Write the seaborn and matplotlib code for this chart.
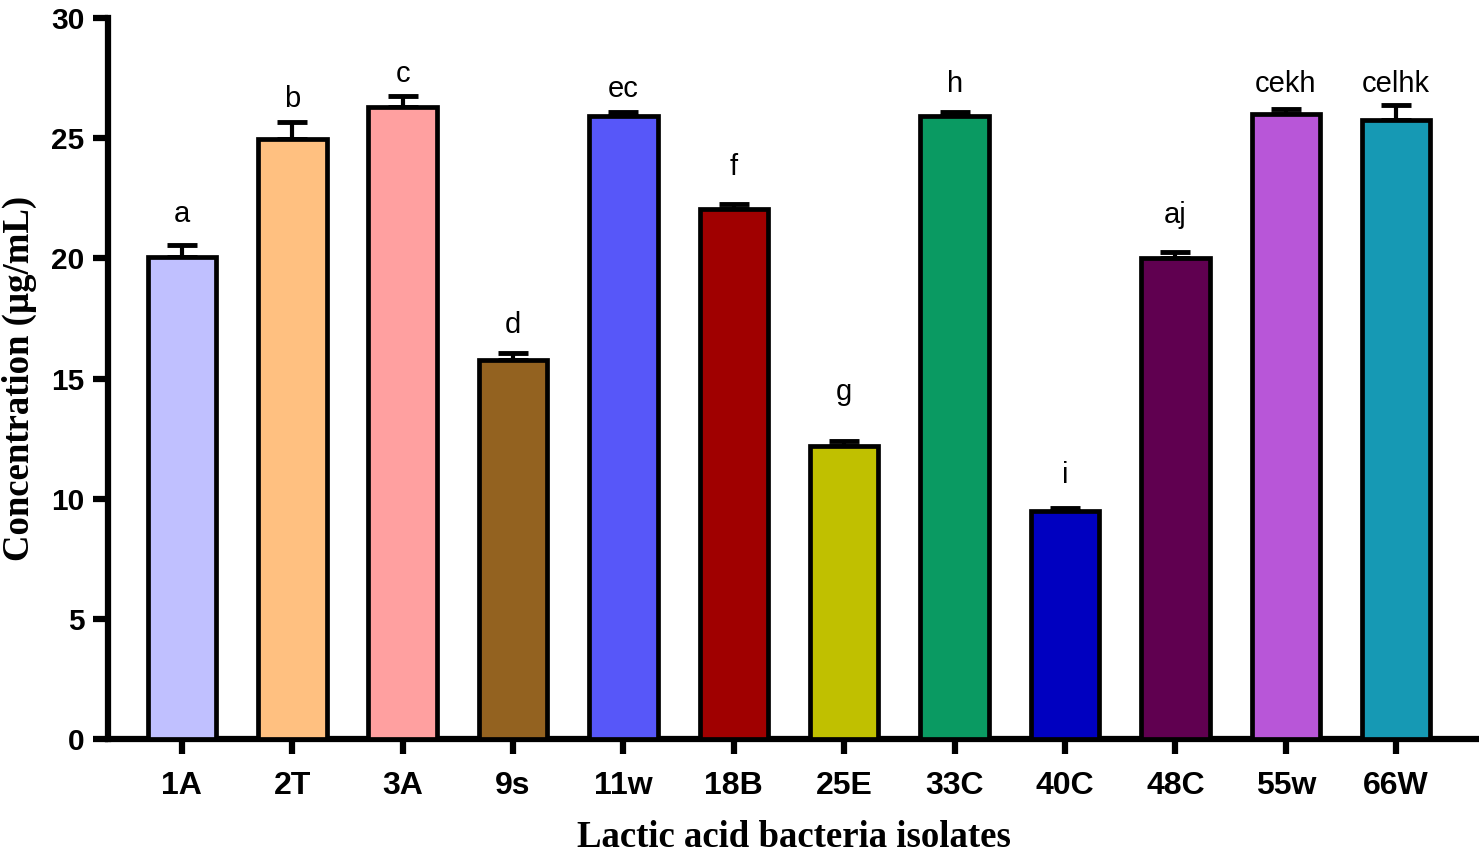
import matplotlib
matplotlib.use("Agg")
import matplotlib.pyplot as plt
import seaborn as sns
import pandas as pd
import numpy as np

# values
isolates = ["1A", "2T", "3A", "9s", "11w", "18B", "25E", "33C", "40C", "48C", "55w", "66W"]
conc = [20.05, 24.97, 26.3, 15.77, 25.93, 22.06, 12.19, 25.93, 9.49, 20.0, 26.0, 25.76]
sem = [0.5, 0.7, 0.45, 0.3, 0.15, 0.2, 0.2, 0.15, 0.12, 0.25, 0.2, 0.6]
letters = ["a", "b", "c", "d", "ec", "f", "g", "h", "i", "aj", "cekh", "celhk"]
# baseline height of each significance letter (data units)
letter_y = [21.5, 26.3, 27.34, 16.9, 26.72, 23.47, 14.1, 26.92, 10.65, 21.47, 26.92, 26.92]
colors = ["#C0C0FF", "#FFC080", "#FFA0A0", "#936220", "#5757F9", "#A00000",
          "#C0C000", "#0A9A62", "#0000C0", "#600050", "#B856D8", "#1699B4"]

df = pd.DataFrame({"isolate": isolates, "conc": conc, "sem": sem})

sns.set_style("ticks", {"axes.edgecolor": "black", "xtick.color": "black",
                        "ytick.color": "black", "text.color": "black",
                        "axes.labelcolor": "black"})
plt.rcParams["font.family"] = ["Liberation Sans", "DejaVu Sans"]

fig = plt.figure(figsize=(14.79, 8.58), dpi=100)
ax = fig.add_axes([0.073, 0.1387, 0.927, 0.8403])

sns.barplot(data=df, x="isolate", y="conc", hue="isolate", palette=colors,
            legend=False, errorbar=None, width=0.62, edgecolor="black",
            linewidth=3.4, saturation=1, ax=ax, zorder=3)

# upward-only error bars
ax.errorbar(np.arange(len(isolates)), conc, yerr=[np.zeros(len(sem)), sem],
            fmt="none", ecolor="black", elinewidth=3, capsize=11, capthick=3.5, zorder=2)

for i, (t, ly) in enumerate(zip(letters, letter_y)):
    ax.text(i, ly, t, ha="center", va="baseline", fontsize=21, color="black")

ax.set_ylim(0, 30)
ax.set_xlim(-0.67, 11.75)
ax.set_yticks([0, 5, 10, 15, 20, 25, 30])

for side in ["top", "right"]:
    ax.spines[side].set_visible(False)
for side in ["left", "bottom"]:
    ax.spines[side].set_linewidth(4.5)
ax.tick_params(axis="both", width=4.5, length=11)
ax.tick_params(axis="y", labelsize=21.5, pad=6)
ax.tick_params(axis="x", labelsize=23, pad=12)
for lab in ax.get_xticklabels() + ax.get_yticklabels():
    lab.set_fontweight("bold")

ax.set_xlabel("Lactic acid bacteria isolates", family=["Liberation Serif", "DejaVu Serif"],
              fontweight="bold", fontsize=26.5, labelpad=14)
ax.set_ylabel("Concentration (µg/mL)", family=["Liberation Serif", "DejaVu Serif"],
              fontweight="bold", fontsize=26.5, labelpad=10)

fig.savefig("out.png", dpi=100)
